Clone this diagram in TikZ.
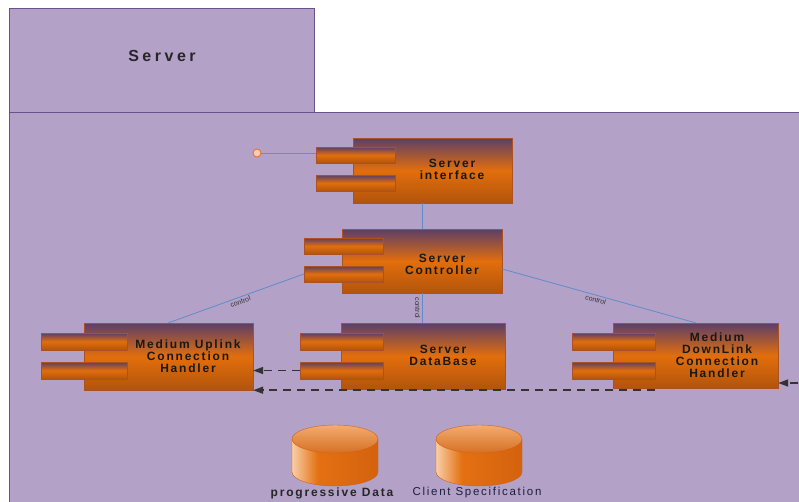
\documentclass[tikz,border=0pt]{standalone}
\usepackage{fontspec}
\setsansfont{Liberation Sans}
\newfontfamily\widesans[LetterSpace=15]{Liberation Sans}
\newfontfamily\headsans[LetterSpace=22]{Liberation Sans}
\usetikzlibrary{arrows.meta}

\definecolor{pkgfill}{RGB}{179,161,200}
\definecolor{pkgline}{RGB}{105,82,140}
\definecolor{comptop}{RGB}{92,62,104}
\definecolor{compmid}{RGB}{226,110,12}
\definecolor{compbot}{RGB}{178,84,12}
\definecolor{compline}{RGB}{170,82,36}
\definecolor{linkblue}{RGB}{96,140,200}
\definecolor{pinline}{RGB}{232,108,30}
\definecolor{cyllight}{RGB}{248,206,168}
\definecolor{cylmid}{RGB}{228,112,18}
\definecolor{cyldark}{RGB}{212,98,14}
\definecolor{captop}{RGB}{242,172,112}
\definecolor{capbot}{RGB}{214,112,36}
\definecolor{captext}{RGB}{30,30,60}
\pgfdeclarehorizontalshading{cylbody}{100bp}{color(0bp)=(cyllight); color(25bp)=(cyllight); color(40bp)=(cylmid); color(75bp)=(cyldark); color(100bp)=(cyldark)}

\begin{document}
\begin{tikzpicture}[x=1pt, y=-1pt,
  comp/.style={draw=compline, top color=comptop, bottom color=compbot, middle color=compmid, inner sep=0pt},
  port/.style={comp, anchor=north west, minimum height=17pt},
  lbl/.style={font=\widesans\bfseries\fontsize{12}{12}\selectfont, text=black!90, align=center},
  ctrl/.style={font=\sffamily\fontsize{7}{7}\selectfont, text=black!80, inner sep=1.5pt},
  link/.style={draw=linkblue, line width=0.8pt},
  flow/.style={draw=black!80, line width=1.6pt, dash pattern=on 8pt off 6pt, -{Triangle[length=10pt,width=7pt]}}]

\clip (0,0) rectangle (799,501);
\fill[white] (0,0) rectangle (799,501);

% package
\draw[pkgline, fill=pkgfill, line width=1pt] (9,112) rectangle (840,540);
\draw[pkgline, fill=pkgfill, line width=1pt] (9,8) rectangle (314,112);
\node[font=\headsans\bfseries\fontsize{16}{16}\selectfont, text=black!85] (srv) at (162,56) {Server};

% components
\node[comp, minimum width=159pt, minimum height=65pt] (si) at (432.5,170.5) {};
\node[port, minimum width=79pt, minimum height=16pt] (si-p1) at ([xshift=-37pt, yshift=-9pt]si.north west) {};
\node[port, minimum width=79pt, minimum height=16pt] (si-p2) at ([xshift=-37pt, yshift=-37pt]si.north west) {};
\node[lbl] (si-t) at (452,169) {Server\\interface};

\node[comp, minimum width=160pt, minimum height=64pt] (sc) at (422,261) {};
\node[port, minimum width=79pt, minimum height=16pt] (sc-p1) at ([xshift=-38pt, yshift=-9pt]sc.north west) {};
\node[port, minimum width=79pt, minimum height=16pt] (sc-p2) at ([xshift=-38pt, yshift=-37pt]sc.north west) {};
\node[lbl] (sc-t) at (442,264) {Server\\Controller};

\node[comp, minimum width=169pt, minimum height=67pt] (ul) at (168.5,356.5) {};
\node[port, minimum width=86pt] (ul-p1) at ([xshift=-43pt, yshift=-10pt]ul.north west) {};
\node[port, minimum width=86pt] (ul-p2) at ([xshift=-43pt, yshift=-39pt]ul.north west) {};
\node[lbl] (ul-t) at (188,356) {Medium Uplink\\Connection\\Handler};

\node[comp, minimum width=164pt, minimum height=66pt] (db) at (423,356) {};
\node[port, minimum width=83pt] (db-p1) at ([xshift=-41pt, yshift=-10pt]db.north west) {};
\node[port, minimum width=83pt] (db-p2) at ([xshift=-41pt, yshift=-39pt]db.north west) {};
\node[lbl] (db-t) at (443,355) {Server\\DataBase};

\node[comp, minimum width=165pt, minimum height=65pt] (dl) at (695.5,355.5) {};
\node[port, minimum width=83pt] (dl-p1) at ([xshift=-41pt, yshift=-10pt]dl.north west) {};
\node[port, minimum width=83pt] (dl-p2) at ([xshift=-41pt, yshift=-39pt]dl.north west) {};
\node[lbl] (dl-t) at (717,355) {Medium\\DownLink\\Connection\\Handler};

% links
\node[circle, draw=pinline, fill=pinline!35, line width=0.8pt, minimum size=8pt, inner sep=0pt] (pin) at (257,153) {};
\draw[draw=pinline, line width=1pt] (pin) -- (pin -| si-p1.west);
\draw[link] (si.south -| sc.north) -- (sc.north);
\draw[link] (ul.north) -- node[ctrl, sloped, below, pos=0.52] (ctl-ul) {control} (sc-p2.west);
\draw[link] (sc.south) -- node[ctrl, rotate=-90, anchor=north, pos=0.5] (ctl-db) {control} (sc.south |- db.north);
\draw[link] ([yshift=-8pt]sc.east) -- node[ctrl, sloped, below, pos=0.49] (ctl-dl) {control} (dl.north);

% data flow
\coordinate (feed) at (812,383);
\draw[flow] (db-p2.west) -- (db-p2.west -| ul.east);
\draw[flow] (dl-p2.east |- ul.south) -- (ul.south east);
\draw[flow] (feed) -- (feed -| dl.east);

% stores
\foreach \cx in {335,479} {
  \shade[shading=cylbody, draw=cyldark]
    (\cx-43,439) -- (\cx-43,472) arc[start angle=180, end angle=360, x radius=43pt, y radius=14pt] -- (\cx+43,439) -- cycle;
  \shade[top color=captop, bottom color=capbot, draw=cyldark] (\cx,439) ellipse [x radius=43pt, y radius=14pt];
}
\node[font=\widesans\bfseries\fontsize{12}{12}\selectfont, text=black!85] (pdata-t) at (332,493) {progressive Data};
\node[font=\widesans\fontsize{11.5}{12}\selectfont, text=captext] (cspec-t) at (477,493) {Client Specification};

\end{tikzpicture}
\end{document}
